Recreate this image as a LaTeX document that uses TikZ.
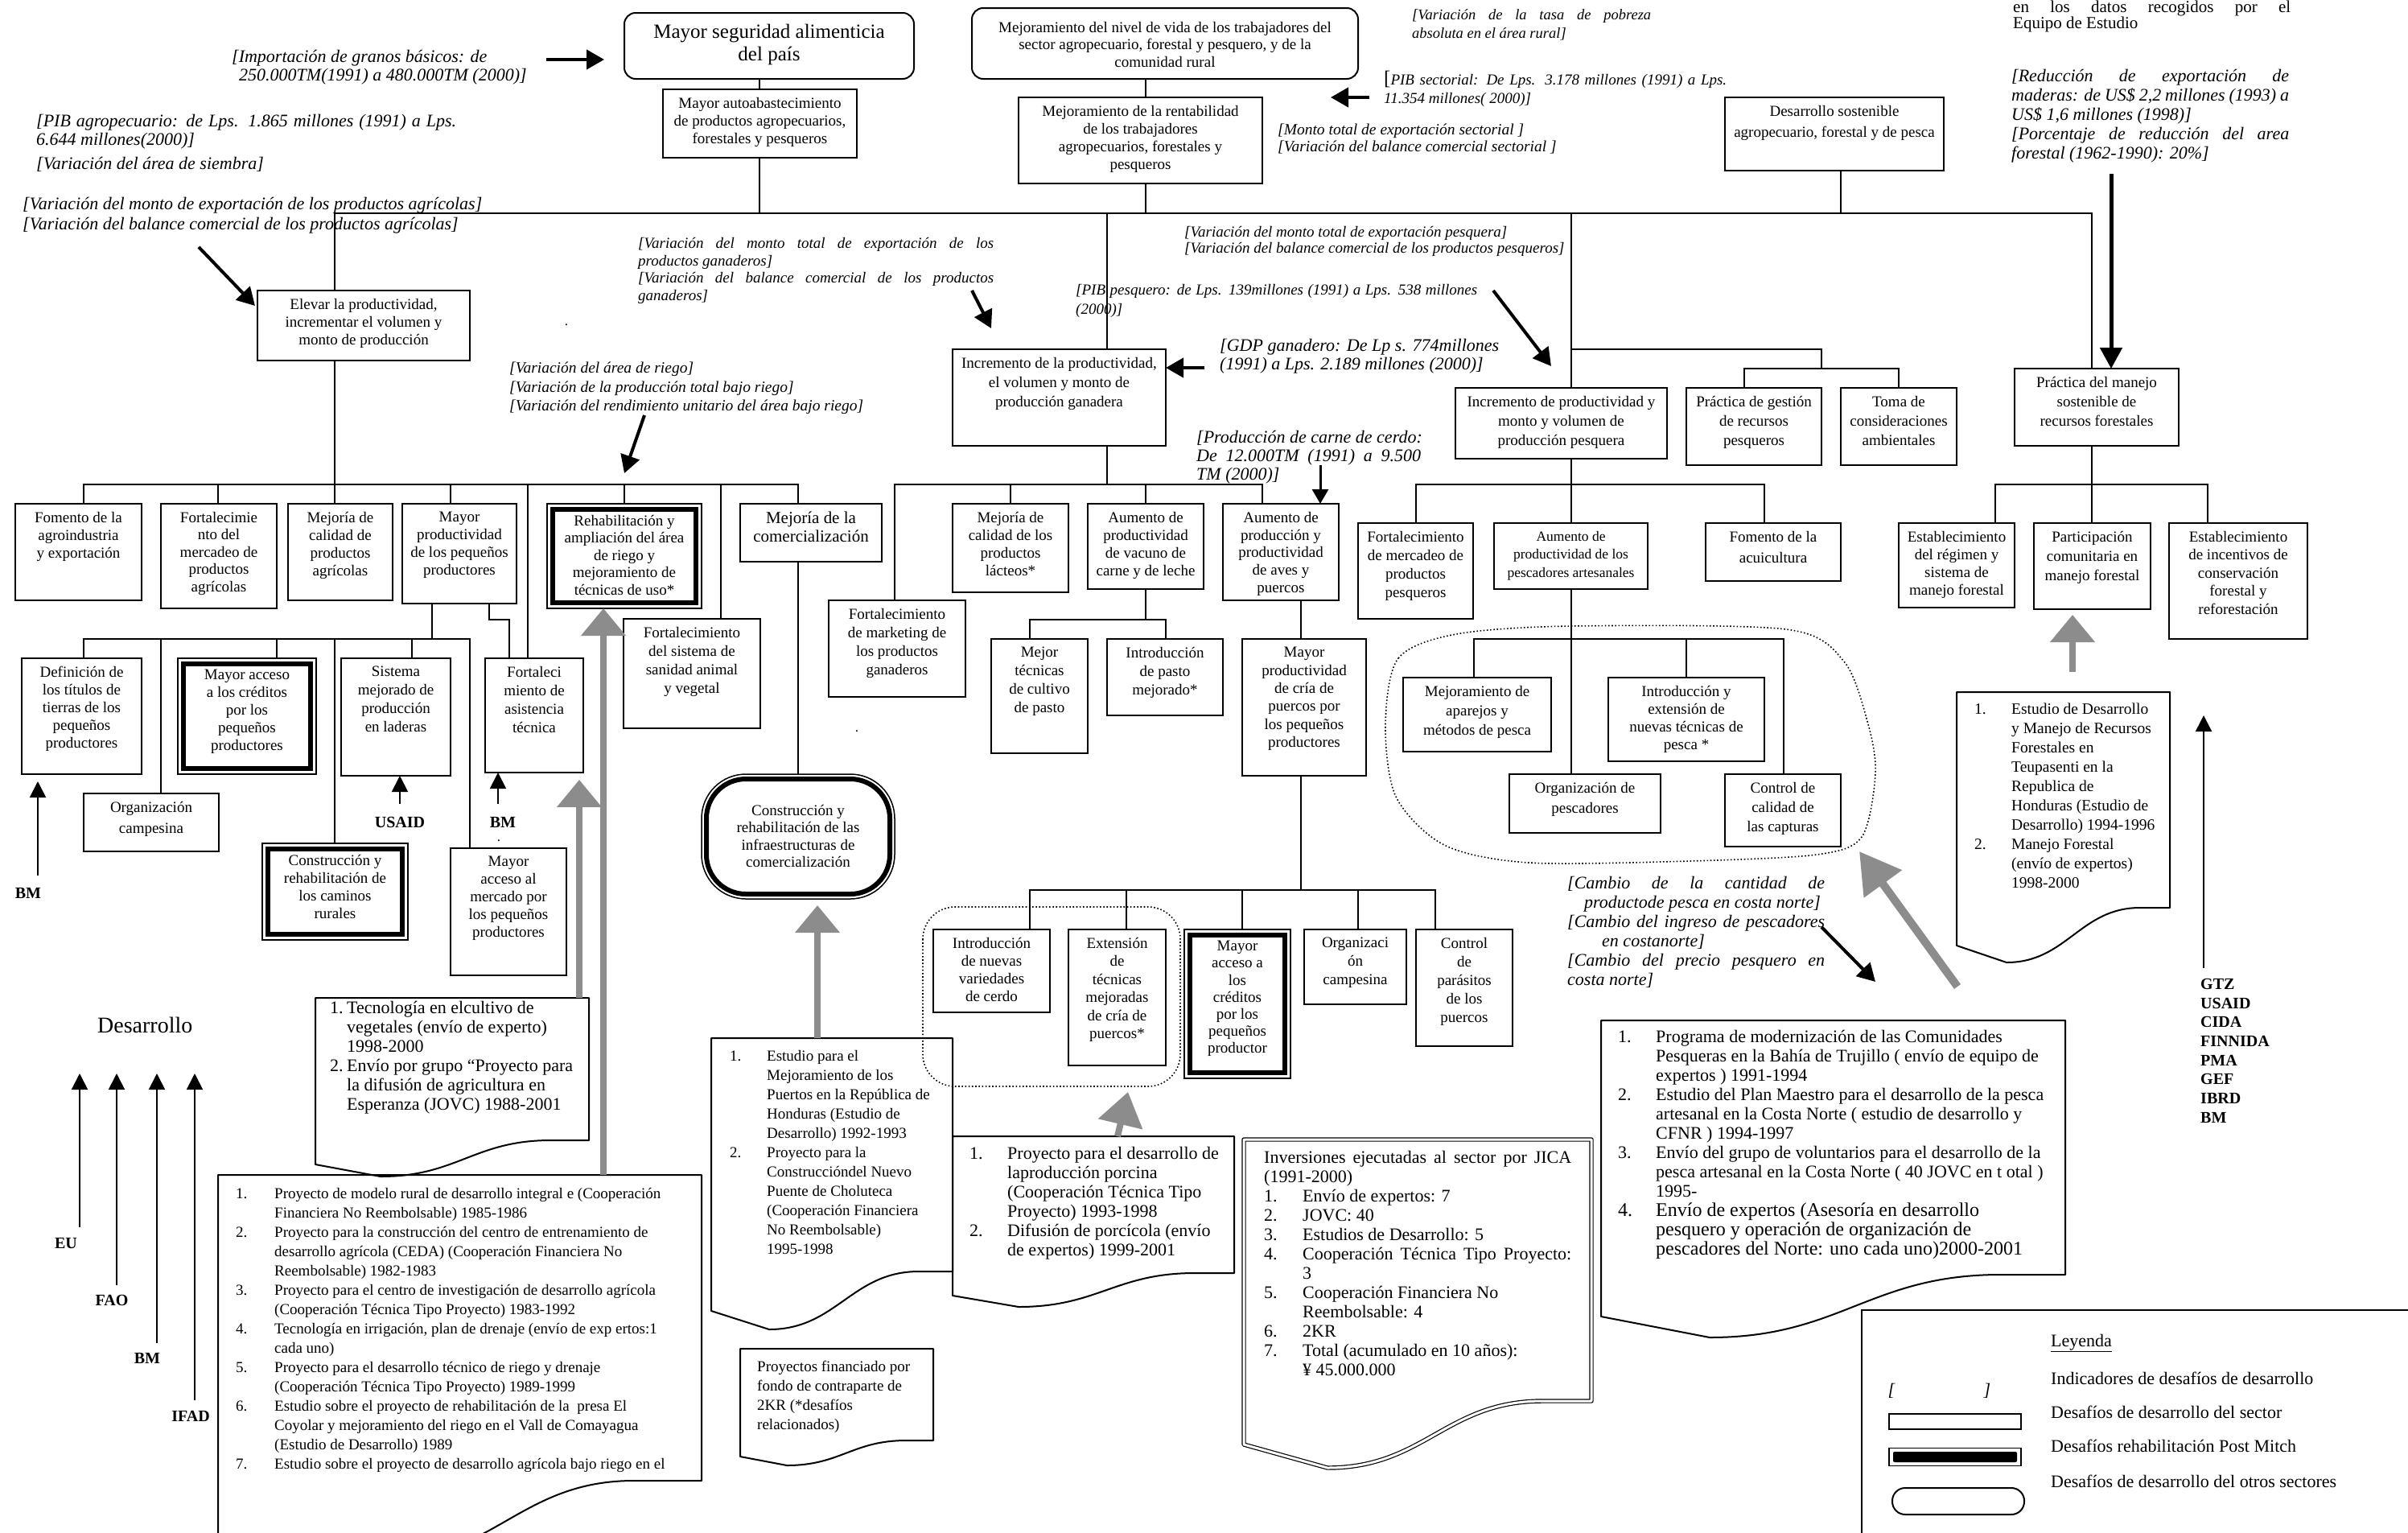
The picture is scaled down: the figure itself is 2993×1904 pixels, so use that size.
\documentclass[tikz,border=0pt]{standalone}
\usepackage{fontspec}
\setmainfont{Liberation Serif}
\usetikzlibrary{arrows.meta}
\newcommand\fs[2]{\fontsize{#1}{#2}\selectfont}
\newcommand\nbx[2]{\makebox[#1pt][l]{#2}}
\newcommand\inx[1]{\hspace*{#1pt}}
\newcommand\jl[2]{\makebox[#1pt][s]{#2}}
\definecolor{ggray}{RGB}{140,140,140}
\tikzset{
 box/.style={draw,line width=2pt,inner sep=0pt,outer sep=0pt},
 btxt/.style={font=\fs{19}{22},align=center,inner sep=0pt,anchor=north},
 conn/.style={line width=2pt},
 ind/.style={font=\itshape\fs{19.5}{22},align=left,inner sep=0pt,anchor=north west},
 indb/.style={font=\itshape\fs{22}{23.5},align=left,inner sep=0pt,anchor=north west},
 plain/.style={align=left,inner sep=0pt,anchor=north west},
 barrow/.style={line width=4pt,-{Triangle[width=24pt,length=22pt]}},
 tarrow/.style={line width=2pt,-{Triangle[width=20pt,length=20pt]}},
 garrow/.style={color=ggray,line width=8pt,-{Triangle[width=54pt,length=34pt]}},
 docl/.style={line width=2pt,line join=round},
 donor/.style={font=\bfseries\fs{20}{24},inner sep=0pt},
 cloudl/.style={line width=1.6pt,dash pattern=on 1.6pt off 2.6pt},
 legt/.style={font=\fs{22}{24},anchor=west,inner sep=0pt},
}
\newcommand\bx[7][]{%
 \node[box,minimum width={#5-#3},minimum height={#6-#4}] (#2) at ({(#3+#5)/2},{(#4+#6)/2}) {};%
 \node[btxt,#1] (#2t) at ({(#3+#5)/2},{#4+10}) {#7};}
\newcommand\mbx[7][]{%
 \node[box,line width=1.5pt,minimum width={#5-#3},minimum height={#6-#4}] (#2) at ({(#3+#5)/2},{(#4+#6)/2}) {};%
 \draw[line width=6pt] ([shift={(7,7)}]#2.north west) rectangle ([shift={(-7,-7)}]#2.south east);%
 \node[btxt,#1] (#2t) at ({(#3+#5)/2},{#4+14}) {#7};}
\newcommand\docp[9][]{%
 \pgfmathsetmacro\dxf{#5-0.14*(#5-#3)}%
 \pgfmathsetmacro\dca{\dxf-0.45*(\dxf-#8)}%
 \pgfmathsetmacro\dcb{#8+0.45*(\dxf-#8)}%
 \draw[docl,#1] (#3,#4) -- (#5,#4) -- (#5,#6) -- (\dxf,#6) .. controls (\dca,#6) and (\dcb,#9) .. (#8,#9) -- (#3,#7) -- cycle;%
 \coordinate (#2) at ({(#3+#5)/2},#4);}
\begin{document}
\begin{tikzpicture}[x=1pt,y=-1pt]
\useasboundingbox (0,0) rectangle (2993,1904);

% ---------- top level ----------
\node[box,rounded corners=14pt,minimum width=360,minimum height=82] (seg) at (956,57) {};
\node[font=\fs{25}{28},align=center,inner sep=0pt] (segt) at (956,55) {Mayor seguridad alimenticia\\del país};
\node[box,rounded corners=14pt,minimum width=480,minimum height=88] (vida) at (1448,54) {};
\node[font=\fs{19}{21.5},align=center,inner sep=0pt] (vidat) at (1448,55) {Mejoramiento del nivel de vida de los trabajadores del\\sector agropecuario, forestal y pesquero, y de la\\comunidad rural};

\bx{auto}{824}{111}{1065}{196}{Mayor autoabastecimiento\\de productos agropecuarios,\\forestales y pesqueros}
\bx{rent}{1266}{121}{1569}{228}{Mejoramiento de la rentabilidad\\de los trabajadores\\agropecuarios, forestales y\\pesqueros}
\bx[font=\fs{19}{26}]{dsost}{2144}{121}{2416}{212}{Desarrollo sostenible\\agropecuario, forestal y de pesca}
\bx{elevar}{320}{361}{584}{448}{Elevar la productividad,\\incrementar el volumen y\\monto de producción}
\bx[font=\fs{19}{24}]{ganad}{1184}{434}{1449}{554}{Incremento de la productividad,\\el volumen y monto de\\producción ganadera}
\bx[font=\fs{19}{24}]{pesq}{1809}{482}{2072}{570}{Incremento de productividad y\\monto y volumen de\\producción pesquera}
\bx[font=\fs{19}{24}]{gest}{2096}{482}{2264}{578}{Práctica de gestión\\de recursos\\pesqueros}
\bx[font=\fs{19}{24}]{toma}{2288}{482}{2432}{578}{Toma de\\consideraciones\\ambientales}
\bx[font=\fs{19}{24}]{pract}{2504}{458}{2708}{554}{Práctica del manejo\\sostenible de\\recursos forestales}

% ---------- second level ----------
\bx{fom}{19}{626}{176}{746}{Fomento de la\\agroindustria\\y exportación}
\bx[font=\fs{19}{21.5}]{fmerc}{200}{626}{344}{756}{Fortalecimie\\nto del\\mercadeo de\\productos\\agrícolas}
\bx{mcal}{358}{626}{488}{746}{Mejoría de\\calidad de\\productos\\agrícolas}
\bx{mprod}{500}{626}{642}{750}{Mayor\\productividad\\de los pequeños\\productores}
\mbx[font=\fs{19}{21.5}]{rehab}{680}{626}{872}{756}{Rehabilitación y\\ampliación del área\\de riego y\\mejoramiento de\\técnicas de uso*}
\bx[font=\fs{19}{23}]{fsan}{775}{769}{945}{905}{Fortalecimiento\\del sistema de\\sanidad animal\\y vegetal}
\bx[font=\fs{21}{23}]{mcom}{920}{626}{1096}{698}{Mejoría de la\\comercialización}
\bx[font=\fs{19}{23}]{fmark}{1030}{746}{1200}{866}{Fortalecimiento\\de marketing de\\los productos\\ganaderos}
\bx{lact}{1184}{626}{1328}{736}{Mejoría de\\calidad de los\\productos\\lácteos*}
\bx{vac}{1352}{626}{1496}{732}{Aumento de\\productividad\\de vacuno de\\carne y de leche}
\bx[font=\fs{19}{23}]{past1}{1232}{794}{1352}{936}{Mejor\\técnicas\\de cultivo\\de pasto}
\bx[font=\fs{19}{23}]{past2}{1376}{794}{1520}{889}{Introducción\\de pasto\\mejorado*}
\bx[font=\fs{19}{21.7}]{aves}{1520}{626}{1664}{746}{Aumento de\\producción y\\productividad\\de aves y\\puercos}
\bx[font=\fs{19}{22.4}]{cria}{1544}{794}{1698}{964}{Mayor\\productividad\\de cría de\\puercos por\\los pequeños\\productores}
\bx[font=\fs{19}{23}]{fmpes}{1688}{650}{1831}{769}{Fortalecimiento\\de mercadeo de\\productos\\pesqueros}
\bx[font=\fs{17.5}{22.5}]{artes}{1857}{650}{2048}{732}{Aumento de\\productividad de los\\pescadores artesanales}
\bx[font=\fs{19}{26}]{acui}{2120}{650}{2288}{722}{Fomento de la\\acuicultura}
\bx[font=\fs{19}{24}]{apar}{1744}{842}{1928}{934}{Mejoramiento de\\aparejos y\\métodos de pesca}
\bx{tecp}{1999}{842}{2193}{946}{Introducción y\\extensión de\\nuevas técnicas de\\pesca *}
\bx[font=\fs{19}{25}]{orgp}{1876}{962}{2064}{1035}{Organización de\\pescadores}
\bx[font=\fs{19}{24}]{calc}{2144}{962}{2288}{1052}{Control de\\calidad de\\las capturas}
\bx{regim}{2360}{650}{2504}{755}{Establecimiento\\del régimen y\\sistema de\\manejo forestal}
\bx[font=\fs{19}{24}]{partc}{2528}{650}{2673}{757}{Participación\\comunitaria en\\manejo forestal}
\bx[font=\fs{19}{22.5}]{incent}{2696}{650}{2868}{794}{Establecimiento\\de incentivos de\\conservación\\forestal y\\reforestación}

% ---------- third level (left) ----------
\bx{defin}{27}{818}{176}{962}{Definición de\\los títulos de\\tierras de los\\pequeños\\productores}
\bx[font=\fs{19}{26}]{orgc}{104}{986}{272}{1058}{Organización\\campesina}
\mbx[font=\fs{19}{22}]{acred}{221}{818}{393}{962}{Mayor acceso\\a los créditos\\por los\\pequeños\\productores}
\bx[font=\fs{19}{23}]{sistl}{424}{818}{560}{964}{Sistema\\mejorado de\\producción\\en laderas}
\bx[font=\fs{19}{23}]{asist}{603}{818}{725}{960}{Fortaleci\\miento de\\asistencia\\técnica}
\mbx[font=\fs{19}{22}]{camin}{326}{1048}{507}{1168}{Construcción y\\rehabilitación de\\los caminos\\rurales}
\bx{amerc}{560}{1054}{704}{1212}{Mayor\\acceso al\\mercado por\\los pequeños\\productores}

% ---------- pork level ----------
\bx{nvar}{1160}{1155}{1305}{1258}{Introducción\\de nuevas\\variedades\\de cerdo}
\bx[font=\fs{19}{22.5}]{ext}{1328}{1155}{1449}{1324}{Extensión\\de\\técnicas\\mejoradas\\de cría de\\puercos*}
\mbx[font=\fs{19}{21.2}]{acred2}{1472}{1155}{1604}{1340}{Mayor\\acceso a\\los\\créditos\\por los\\pequeños\\productor}
\bx[font=\fs{19}{23}]{orgc2}{1621}{1155}{1748}{1248}{Organizaci\\ón\\campesina}
\bx[font=\fs{19}{23}]{paras}{1760}{1155}{1880}{1300}{Control\\de\\parásitos\\de los\\puercos}

% ---------- infrastructure (rounded, post Mitch) ----------
\node[box,line width=1.5pt,rounded corners=55pt,minimum width=240,minimum height=155] (infra) at (992,1039.5) {};
\draw[line width=6pt,rounded corners=49pt] (878,968) rectangle (1106,1111);
\node[font=\fs{19}{21.5},align=center,inner sep=0pt] (infrat) at (992,1039) {Construcción y\\rehabilitación de las\\infraestructuras de\\comercialización};

% ---------- tree connectors ----------
\coordinate (m1) at (416,265); \coordinate (m2) at (2600,265);
\draw[conn] (elevar.north -| 416,0) -- (m1) -- (m2) -- (pract.north -| 2600,0);
\draw[conn] (seg.south -| 944,0) -- (auto.north -| 944,0);
\draw[conn] (auto.south -| 944,0) -- (944,265);
\draw[conn] (vida.south -| 1424,0) -- (rent.north -| 1424,0);
\draw[conn] (rent.south -| 1424,0) -- (1424,265);
\draw[conn] (dsost.south -| 2288,0) -- (2288,265);
\draw[conn] (1376,265) -- (ganad.north -| 1376,0);
\draw[conn] (1953,265) -- (pesq.north -| 1953,0);
\draw[conn] (1953,434) -- (2264,434) -- (2264,458);
\draw[conn] (gest.north -| 2168,0) -- (2168,458) -- (2360,458) -- (toma.north -| 2360,0);
% agricultural
\draw[conn] (elevar.south -| 416,0) -- (416,602);
\draw[conn] (fom.north -| 104,0) -- (104,602) -- (992,602) -- (mcom.north -| 992,0);
\draw[conn] (271,602) -- (fmerc.north -| 271,0);
\draw[conn] (416,602) -- (mcal.north -| 416,0);
\draw[conn] (560,602) -- (mprod.north -| 560,0);
\draw[conn] (656,602) -- (asist.north -| 656,0);
\draw[conn] (776,602) -- (rehab.north -| 776,0);
\draw[conn] (896,602) -- (fsan.north -| 896,0);
\draw[conn] (mprod.south -| 537,0) -- (537,794);
\draw[conn] (mprod.south -| 608,0) -- (608,770) -- (633,770) -- (asist.north -| 633,0);
\draw[conn] (defin.north -| 104,0) -- (104,794) -- (584,794) -- (amerc.north -| 584,0);
\draw[conn] (200,794) -- (orgc.north -| 200,0);
\draw[conn] (344,794) -- (acred.north -| 344,0);
\draw[conn] (416,794) -- (camin.north -| 416,0);
\draw[conn] (512,794) -- (sistl.north -| 512,0);
\draw[conn] (mcom.south -| 992,0) -- (infra.north -| 992,0);
% livestock
\draw[conn] (ganad.south -| 1376,0) -- (1376,602);
\draw[conn] (fmark.north -| 1112,0) -- (1112,602) -- (1569,602) -- (aves.north -| 1569,0);
\draw[conn] (1256,602) -- (lact.north -| 1256,0);
\draw[conn] (1424,602) -- (vac.north -| 1424,0);
\draw[conn] (vac.south -| 1424,0) -- (1424,770);
\draw[conn] (past1.north -| 1280,0) -- (1280,770) -- (1449,770) -- (past2.north -| 1449,0);
\draw[conn] (aves.south -| 1617,0) -- (cria.north -| 1617,0);
\draw[conn] (cria.south -| 1617,0) -- (1617,1106);
\draw[conn] (nvar.north -| 1280,0) -- (1280,1106) -- (1784,1106) -- (paras.north -| 1784,0);
\draw[conn] (1400,1106) -- (ext.north -| 1400,0);
\draw[conn] (1544,1106) -- (acred2.north -| 1544,0);
\draw[conn] (1688,1106) -- (orgc2.north -| 1688,0);
% fisheries
\draw[conn] (pesq.south -| 1953,0) -- (1953,602);
\draw[conn] (fmpes.north -| 1760,0) -- (1760,602) -- (2193,602) -- (acui.north -| 2193,0);
\draw[conn] (1953,602) -- (artes.north -| 1953,0);
\draw[conn] (artes.south -| 1953,0) -- (orgp.north -| 1953,0);
\draw[conn] (apar.north -| 1832,0) -- (1832,794) -- (2217,794) -- (calc.north -| 2217,0);
\draw[conn] (2096,794) -- (tecp.north -| 2096,0);
% forestry
\draw[conn] (pract.south -| 2600,0) -- (2600,602);
\draw[conn] (regim.north -| 2480,0) -- (2480,602) -- (2744,602) -- (incent.north -| 2744,0);
\draw[conn] (2600,602) -- (partc.north -| 2600,0);

% ---------- dotted groups ----------
\draw[cloudl,rounded corners=40pt] (1147,1127) rectangle (1467,1350);
\draw[cloudl] plot[smooth cycle] coordinates {(1722,900) (1738,818) (1810,788) (1953,778) (2220,782) (2292,822) (2322,900) (2331,962) (2314,1040) (2258,1062) (2100,1070) (1900,1072) (1795,1050) (1735,990)};

% ---------- indicator texts ----------
\node[indb,font=\itshape\fs{22}{23}] (timp) at (288,62) {[Importación de granos básicos: de\\\inx{9}250.000TM(1991) a 480.000TM (2000)]};
\node[indb,font=\itshape\fs{22}{23}] (tpib) at (45,142) {\jl{522}{[PIB agropecuario: de Lps. 1.865 millones (1991) a Lps.}\\6.644 millones(2000)]};
\node[indb] (tsie) at (45,195) {[Variación del área de siembra]};
\node[indb,font=\itshape\fs{22}{25}] (tagr) at (28,245) {[Variación del monto de exportación de los productos agrícolas]\\{}[Variación del balance comercial de los productos agrícolas]};
\node[ind,font=\itshape\fs{19}{21.7}] (tgan) at (793,295) {\jl{442}{[Variación del monto total de exportación de los}\\productos ganaderos]\\\jl{442}{[Variación del balance comercial de los productos}\\ganaderos]};
\node[ind,font=\itshape\fs{19.5}{23.5}] (trie) at (633,450) {[Variación del área de riego]\\{}[Variación de la producción total bajo riego]\\{}[Variación del rendimiento unitario del área bajo riego]};
\node[ind,font=\itshape\fs{19}{20}] (tpex) at (1472,281) {[Variación del monto total de exportación pesquera]\\{}[Variación del balance comercial de los productos pesqueros]};
\node[ind,font=\itshape\fs{19}{24}] (tpps) at (1337,353) {\jl{499}{[PIB pesquero: de Lps. 139millones (1991) a Lps. 538 millones}\\(2000)]};
\node[indb,font=\itshape\fs{22}{23}] (tgdp) at (1516,421) {\jl{347}{[GDP ganadero: De Lp s. 774millones}\\(1991) a Lps. 2.189 millones (2000)]};
\node[indb,font=\itshape\fs{22}{23}] (tcer) at (1487,535) {[Producción de carne de cerdo:\\\jl{279}{De 12.000TM (1991) a 9.500}\\TM (2000)]};
\node[ind,font=\itshape\fs{18.5}{23}] (tpob) at (1755,11) {\jl{297}{[Variación de la tasa de pobreza}\\absoluta en el área rural]};
\node[ind,font=\itshape\fs{19}{23}] (tpse) at (1720,88) {\jl{426}{{\upshape\fs{25}{23}[}PIB sectorial: De Lps. 3.178 millones (1991) a Lps.}\\11.354 millones( 2000)]};
\node[ind,font=\itshape\fs{19.5}{21}] (tmse) at (1588,154) {[Monto total de exportación sectorial ]\\{}[Variación del balance comercial sectorial ]};
\node[indb,font=\itshape\fs{22}{24}] (tmad) at (2500,86) {\jl{345}{[Reducción de exportación de}\\\jl{345}{maderas: de US\$ 2,2 millones (1993) a}\\US\$ 1,6 millones (1998)]\\\jl{345}{[Porcentaje de reducción del area}\\forestal (1962-1990): 20\%]};
\node[plain,font=\fs{21}{20}] (tequ) at (2502,1) {\jl{345}{en los datos recogidos por el}\\Equipo de Estudio};
\node[indb,font=\itshape\fs{22}{24}] (tcam) at (1948,1089) {\jl{320}{[Cambio de la cantidad de}\\\inx{21}productode pesca en costa norte]\\\jl{320}{[Cambio del ingreso de pescadores}\\\inx{43}en costanorte]\\\jl{320}{[Cambio del precio pesquero en}\\costa norte]};

\node[font=\fs{17}{20},inner sep=0pt] (dot1) at (704,404) {.};
\node[font=\fs{17}{20},inner sep=0pt] (dot2) at (1065,909) {.};
\node[font=\fs{17}{20},inner sep=0pt] (dot3) at (620,1045) {.};

% ---------- black arrows ----------
\coordinate (aimp) at (679,74);
\draw[barrow,shorten >=25pt] (aimp) -- (seg.west |- aimp);
\coordinate (aagr1) at (247,307); \coordinate (aagr2) at (317,380);
\draw[barrow] (aagr1) -- (aagr2);
\coordinate (agan1) at (1208,361); \coordinate (agan2) at (1232,408);
\draw[barrow] (agan1) -- (agan2);
\coordinate (arie1) at (801,516); \coordinate (arie2) at (776,588);
\draw[barrow] (arie1) -- (arie2);
\coordinate (agdp) at (1497,457);
\draw[barrow] (agdp) -- (ganad.east |- agdp);
\coordinate (apse) at (1702,121); \coordinate (apse2) at (1654,121);
\draw[barrow] (apse) -- (apse2);
\coordinate (apps1) at (1856,361); \coordinate (apps2) at (1928,455);
\draw[barrow] (apps1) -- (apps2);
\coordinate (acer) at (1641,578);
\draw[line width=3pt,-{Triangle[width=20pt,length=18pt]}] (acer) -- (aves.north -| acer);
\coordinate (amad) at (2624,216);
\draw[line width=5pt,-{Triangle[width=27pt,length=26pt]}] (amad) -- (pract.north -| amad);
\coordinate (acam1) at (2264,1152); \coordinate (acam2) at (2331,1220);
\draw[barrow] (acam1) -- (acam2);

% ---------- donor labels & arrows ----------
\node[donor] (bm1) at (35,1110) {BM};
\node[donor] (usaid) at (497,1022) {USAID};
\node[donor] (bm2) at (625,1022) {BM};
\coordinate (abm1) at (47,1088);
\draw[tarrow,shorten >=9pt] (abm1) -- (defin.south -| abm1);
\coordinate (ausa) at (497,999);
\draw[tarrow] (ausa) -- (sistl.south -| ausa);
\coordinate (abm2) at (619,999);
\draw[tarrow] (abm2) -- (asist.south -| abm2);

\node[font=\fs{28}{30},anchor=west,inner sep=0pt] (desa) at (121,1274) {Desarrollo};
\node[donor] (eu) at (82,1545) {EU};
\node[donor] (fao) at (139,1616) {FAO};
\node[donor] (bm3) at (183,1688) {BM};
\node[donor] (ifad) at (237,1760) {IFAD};
\coordinate (aeu) at (99,1525); \coordinate (afao) at (145,1597);
\coordinate (abm3) at (195,1669); \coordinate (aifad) at (242,1740);
\draw[tarrow] (aeu) -- (99,1334);
\draw[tarrow] (afao) -- (145,1334);
\draw[tarrow] (abm3) -- (195,1334);
\draw[tarrow] (aifad) -- (242,1334);

\node[font=\bfseries\fs{20}{23.7},align=left,anchor=north west,inner sep=0pt] (donors) at (2735,1216) {GTZ\\USAID\\CIDA\\FINNIDA\\PMA\\GEF\\IBRD\\BM};
\coordinate (agtz) at (2739,1203);
\draw[tarrow] (agtz) -- (2739,889);

% ---------- project documents ----------
\docp{tecn}{392}{1240}{732}{1417}{1447}{473}{1462}
\node[plain,font=\fs{22}{24}] (tecnt) at (410,1244) {\nbx{21}{1.}Tecnología en elcultivo de\\\inx{21}vegetales (envío de experto)\\\inx{21}1998-2000\\\nbx{21}{2.}Envío por grupo “Proyecto para\\\inx{21}la difusión de agricultura en\\\inx{21}Esperanza (JOVC) 1988-2001};

\docp{agri}{271}{1460}{872}{1840}{1922}{470}{1940}
\node[plain,font=\fs{19}{24}] (agrit) at (293,1476) {\nbx{48}{1.}Proyecto de modelo rural de desarrollo integral e (Cooperación\\\inx{48}Financiera No Reembolsable) 1985-1986\\\nbx{48}{2.}Proyecto para la construcción del centro de entrenamiento de\\\inx{48}desarrollo agrícola (CEDA) (Cooperación Financiera No\\\inx{48}Reembolsable) 1982-1983\\\nbx{48}{3.}Proyecto para el centro de investigación de desarrollo agrícola\\\inx{48}(Cooperación Técnica Tipo Proyecto) 1983-1992\\\nbx{48}{4.}Tecnología en irrigación, plan de drenaje (envío de exp ertos:1\\\inx{48}cada uno)\\\nbx{48}{5.}Proyecto para el desarrollo técnico de riego y drenaje\\\inx{48}(Cooperación Técnica Tipo Proyecto) 1989-1999\\\nbx{48}{6.}Estudio sobre el proyecto de rehabilitación de la\ \ presa El\\\inx{48}Coyolar y mejoramiento del riego en el Vall de Comayagua\\\inx{48}(Estudio de Desarrollo) 1989\\\nbx{48}{7.}Estudio sobre el proyecto de desarrollo agrícola bajo riego en el};

\docp{puert}{884}{1290}{1184}{1580}{1629}{956}{1652}
\node[plain,font=\fs{19}{24}] (puertt) at (907,1305) {\nbx{46}{1.}Estudio para el\\\inx{46}Mejoramiento de los\\\inx{46}Puertos en la República de\\\inx{46}Honduras (Estudio de\\\inx{46}Desarrollo) 1992-1993\\\nbx{46}{2.}Proyecto para la\\\inx{46}Construccióndel Nuevo\\\inx{46}Puente de Choluteca\\\inx{46}(Cooperación Financiera\\\inx{46}No Reembolsable)\\\inx{46}1995-1998};

\docp{fin}{920}{1676}{1160}{1790}{1810}{978}{1821}
\node[plain,font=\fs{19}{24}] (fint) at (941,1691) {Proyectos financiado por\\fondo de contraparte de\\2KR (*desafíos\\relacionados)};

\docp{porc}{1184}{1412}{1534}{1582}{1610}{1266}{1624}
\node[plain,font=\fs{22}{24}] (porct) at (1205,1425) {\nbx{47}{1.}Proyecto para el desarrollo de\\\inx{47}laproducción porcina\\\inx{47}(Cooperación Técnica Tipo\\\inx{47}Proyecto) 1993-1998\\\nbx{47}{2.}Difusión de porcícola (envío\\\inx{47}de expertos) 1999-2001};

\docp[double,double distance=3pt,line width=1.2pt]{jica}{1546}{1416}{1978}{1741}{1795}{1650}{1824}
\node[plain,font=\fs{22}{24}] (jicat) at (1571,1430) {\jl{382}{Inversiones ejecutadas al sector por JICA}\\(1991-2000)\\\nbx{48}{1.}Envío de expertos: 7\\\nbx{48}{2.}JOVC: 40\\\nbx{48}{3.}Estudios de Desarrollo: 5\\\nbx{48}{4.}\jl{334}{Cooperación Técnica Tipo Proyecto:}\\\inx{48}3\\\nbx{48}{5.}Cooperación Financiera No\\\inx{48}Reembolsable: 4\\\nbx{48}{6.}2KR\\\nbx{48}{7.}Total (acumulado en 10 años):\\\inx{48}¥ 45.000.000};

\docp{fish}{1990}{1268}{2567}{1584}{1636}{2125}{1662}
\node[plain,font=\fs{22}{24}] (fisht) at (2011,1280) {\nbx{47}{1.}Programa de modernización de las Comunidades\\\inx{47}Pesqueras en la Bahía de Trujillo ( envío de equipo de\\\inx{47}expertos ) 1991-1994\\\nbx{47}{2.}Estudio del Plan Maestro para el desarrollo de la pesca\\\inx{47}artesanal en la Costa Norte ( estudio de desarrollo y\\\inx{47}CFNR ) 1994-1997\\\nbx{47}{3.}Envío del grupo de voluntarios para el desarrollo de la\\\inx{47}pesca artesanal en la Costa Norte ( 40 JOVC en t otal )\\\inx{47}1995-\\{\fs{24}{24}\nbx{47}{4.}Envío de expertos (Asesoría en desarrollo}\\{\fs{24}{24}\inx{47}pesquero y operación de organización de}\\{\fs{24}{24}\inx{47}pescadores del Norte: uno cada uno)2000-2001}};

\docp{forest}{2432}{860}{2697}{1128}{1175}{2494}{1196}
\node[plain,font=\fs{19.5}{24}] (forestt) at (2454,874) {\nbx{46}{1.}Estudio de Desarrollo\\\inx{46}y Manejo de Recursos\\\inx{46}Forestales en\\\inx{46}Teupasenti en la\\\inx{46}Republica de\\\inx{46}Honduras (Estudio de\\\inx{46}Desarrollo) 1994-1996\\\nbx{46}{2.}Manejo Forestal\\\inx{46}(envío de expertos)\\\inx{46}1998-2000};

% ---------- grey arrows ----------
\draw[garrow,shorten >=9pt] (tecn -| 720,0) -- (asist.south -| 720,0);
\draw[garrow] (agri -| 750,0) -- (rehab.south -| 750,0);
\draw[garrow,shorten >=8pt] (puert -| 1016,0) -- (infra.south -| 1016,0);
\coordinate (gcer) at (1402,1357);
\draw[garrow,-{Triangle[width=55pt,length=41pt]}] (porc -| 1389,0) -- (gcer);
\coordinate (gfi1) at (2433,1226); \coordinate (gfi2) at (2311,1058);
\draw[garrow,line width=10pt,-{Triangle[width=56pt,length=50pt]}] (gfi1) -- (gfi2);
\coordinate (gfo) at (2576,835);
\draw[garrow,shorten >=7pt] (gfo) -- (partc.south -| gfo);

% ---------- legend ----------
\node[box,anchor=north west,minimum width=700,minimum height=300] (legbox) at (2314,1628) {};
\node[legt] (legh) at (2549,1669) {\underline{Leyenda}};
\node[legt] (leg1) at (2549,1713) {Indicadores de desafíos de desarrollo};
\node[legt] (leg2) at (2549,1755) {Desafíos de desarrollo del sector};
\node[legt] (leg3) at (2549,1797) {Desafíos rehabilitación Post Mitch};
\node[legt] (leg4) at (2549,1841) {Desafíos de desarrollo del otros sectores};
\node[font=\itshape\fs{22}{24},inner sep=0pt] (lbr1) at (2351,1728) {[};
\node[font=\itshape\fs{22}{24},inner sep=0pt] (lbr2) at (2470,1728) {]};
\node[box,minimum width=164,minimum height=19] (ls1) at (2430,1766.5) {};
\node[box,line width=1.5pt,minimum width=164,minimum height=22] (ls2) at (2430,1810.5) {};
\fill[rounded corners=2pt] (2353,1804) rectangle (2507,1817);
\node[box,rounded corners=16pt,minimum width=164,minimum height=33] (ls3) at (2434,1865.5) {};
\end{tikzpicture}
\end{document}
